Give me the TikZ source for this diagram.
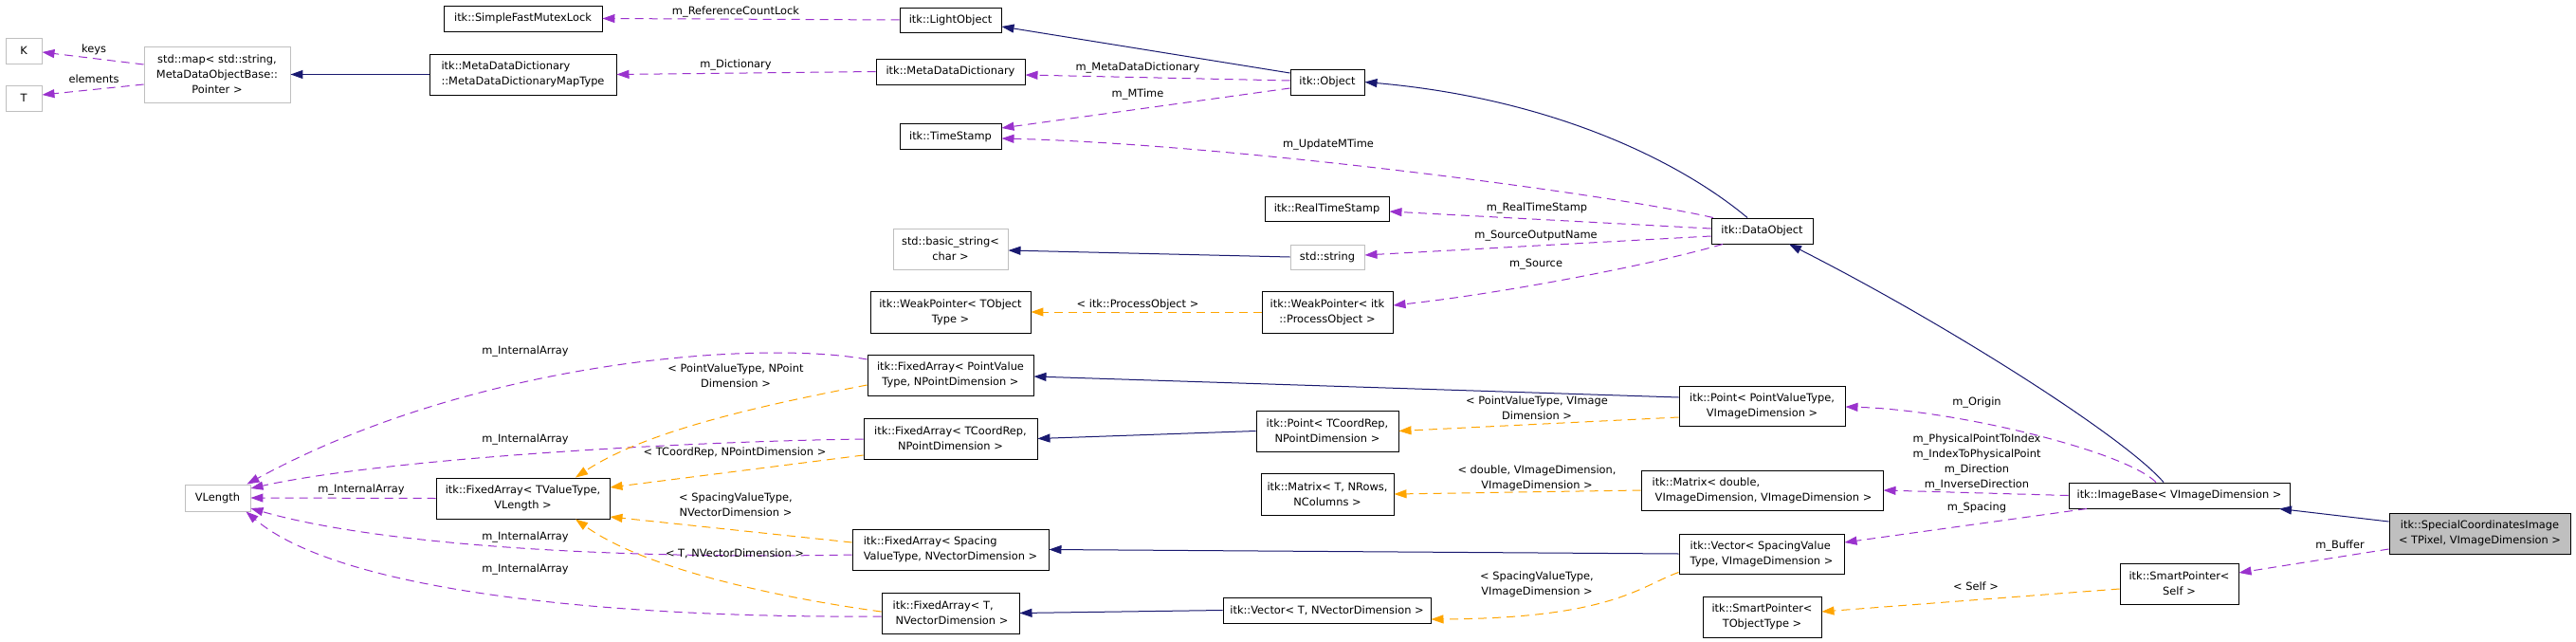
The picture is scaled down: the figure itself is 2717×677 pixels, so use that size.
\documentclass[tikz,border=0pt]{standalone}
\usepackage{fontspec}
\setmainfont{DejaVu Sans}
\usetikzlibrary{arrows.meta}
\definecolor{undgray}{HTML}{BFBFBF}
\definecolor{curgray}{HTML}{BFBFBF}
\definecolor{inhblue}{HTML}{191970}
\definecolor{usepurple}{HTML}{9A32CD}
\definecolor{tmplorange}{HTML}{FFA500}
\newcommand{\dxfont}{\fontsize{11.4pt}{16pt}\selectfont}
\tikzset{
  doc/.style={draw=black, fill=white, line width=0.95pt, inner sep=0pt},
  und/.style={draw=undgray, fill=white, line width=0.95pt, inner sep=0pt},
  cur/.style={draw=black, fill=curgray, line width=0.95pt, inner sep=0pt},
  lab/.style={inner sep=0pt, align=center},
  tipshape/.style={-{Triangle[length=13pt,width=9pt]}},
  inh/.style={draw=inhblue, line width=1pt, tipshape},
  usage/.style={draw=usepurple, line width=1pt, dash pattern=on 9pt off 6pt, tipshape},
  tmpl/.style={draw=tmplorange, line width=1pt, dash pattern=on 9pt off 6pt, tipshape},
}
\begin{document}
\begin{tikzpicture}[x=1pt, y=-1pt, font=\dxfont]
\fill[white] (0,0) rectangle (2717,677);
\useasboundingbox (0,0) rectangle (2717,677);

% ---------- nodes ----------
\node[und, minimum width=38, minimum height=27] (K) at (25,53.5) {K};
\node[und, minimum width=38, minimum height=27] (T) at (25,103.5) {T};
\node[und, minimum width=154, minimum height=59, align=center] (stdmap) at (229,78.5) {std::map< std::string,\\ MetaDataObjectBase::\\Pointer >};
\node[doc, minimum width=167, minimum height=27] (sfml) at (551.5,19.5) {itk::SimpleFastMutexLock};
\node[doc, minimum width=197, minimum height=43, align=left] (maptype) at (551.5,78.5) {itk::MetaDataDictionary\\::MetaDataDictionaryMapType};
\node[doc, minimum width=107, minimum height=26] (light) at (1002.5,21) {itk::LightObject};
\node[doc, minimum width=157, minimum height=27] (mdd) at (1002.5,75.5) {itk::MetaDataDictionary};
\node[doc, minimum width=107, minimum height=27] (ts) at (1002.5,144) {itk::TimeStamp};
\node[doc, minimum width=78, minimum height=27] (obj) at (1400,86.5) {itk::Object};
\node[doc, minimum width=131, minimum height=26] (rts) at (1399.5,220) {itk::RealTimeStamp};
\node[und, minimum width=121, minimum height=43, align=center] (bs) at (1002.5,262.5) {std::basic\_string<\\char >};
\node[und, minimum width=78, minimum height=26] (str) at (1400,271) {std::string};
\node[doc, minimum width=169, minimum height=44, align=center] (wpt) at (1002.5,329) {itk::WeakPointer< TObject\\Type >};
\node[doc, minimum width=138, minimum height=44, align=center] (wpp) at (1400,329) {itk::WeakPointer< itk\\::ProcessObject >};
\node[doc, minimum width=107, minimum height=27] (dobj) at (1858.5,243.5) {itk::DataObject};
\node[doc, minimum width=175, minimum height=43, align=center] (fapvt) at (1002.5,395.5) {itk::FixedArray< PointValue\\Type, NPointDimension >};
\node[doc, minimum width=183, minimum height=43, align=center] (fatcr) at (1002.5,462.5) {itk::FixedArray< TCoordRep,\\NPointDimension >};
\node[doc, minimum width=150, minimum height=43, align=center] (ptcr) at (1400,454.5) {itk::Point< TCoordRep,\\NPointDimension >};
\node[doc, minimum width=140, minimum height=44, align=center] (mt) at (1400,521) {itk::Matrix< T, NRows,\\NColumns >};
\node[doc, minimum width=207, minimum height=43, align=left] (fasvt) at (1002.5,579.5) {itk::FixedArray< Spacing\\ValueType, NVectorDimension >};
\node[doc, minimum width=145, minimum height=43, align=left] (fat) at (1002.5,646.5) {itk::FixedArray< T,\\\hspace*{3pt}NVectorDimension >};
\node[doc, minimum width=219, minimum height=27] (vect) at (1399.5,643.5) {itk::Vector< T, NVectorDimension >};
\node[doc, minimum width=175, minimum height=42, align=center] (pvt) at (1858.5,428) {itk::Point< PointValueType,\\VImageDimension >};
\node[doc, minimum width=255, minimum height=42, align=left] (md) at (1858.5,517) {itk::Matrix< double,\\\hspace*{3pt}VImageDimension, VImageDimension >};
\node[doc, minimum width=174, minimum height=42, align=left] (vs) at (1858,584) {itk::Vector< SpacingValue\\Type, VImageDimension >};
\node[doc, minimum width=125, minimum height=43, align=center] (spt) at (1858.5,650.5) {itk::SmartPointer<\\TObjectType >};
\node[doc, minimum width=233, minimum height=27] (ib) at (2298.5,522.5) {itk::ImageBase< VImageDimension >};
\node[doc, minimum width=125, minimum height=43, align=center] (sps) at (2298.5,615.5) {itk::SmartPointer<\\Self >};
\node[cur, minimum width=191, minimum height=43, align=center] (sci) at (2615.5,562.5) {itk::SpecialCoordinatesImage\\< TPixel, VImageDimension >};
\node[und, minimum width=69, minimum height=28] (vl) at (229.5,525) {VLength};
\node[doc, minimum width=183, minimum height=43, align=center] (fatv) at (551.5,525.5) {itk::FixedArray< TValueType,\\VLength >};

% ---------- connectors ----------
\draw[inh] (maptype) -- (stdmap);
\draw[usage] ([yshift=10.5pt]stdmap.west) -- ([yshift=-1.5pt]K.east);
\draw[usage] ([yshift=-10.5pt]stdmap.west) -- ([yshift=3.5pt]T.east);
\draw[usage] (light.west) -- (sfml.east);
\draw[usage] (mdd.west) -- (maptype.east);
\draw[inh] ([yshift=9.5pt]obj.west) -- ([yshift=-7pt]light.east);
\draw[usage] ([yshift=1.5pt]obj.west) -- ([yshift=-3.5pt]mdd.east);
\draw[usage] ([yshift=-6.5pt]obj.west) -- ([yshift=9pt]ts.east);
\draw[inh] ([xshift=-15.5pt]dobj.north) .. controls (1773,171) and (1639,104) .. (obj.east);
\draw[usage] ([xshift=-51.5pt]dobj.north) .. controls (1700,205) and (1300,152) .. ([yshift=-2pt]ts.east);
\draw[usage] ([yshift=2.5pt]dobj.west) -- ([yshift=-3pt]rts.east);
\draw[usage] ([yshift=-5.5pt]dobj.west) -- ([yshift=2pt]str.east);
\draw[usage] ([xshift=-41.5pt]dobj.south) .. controls (1740,280) and (1580,310) .. ([yshift=7pt]wpp.east);
\draw[inh] (str.west) -- ([yshift=-1.5pt]bs.east);
\draw[tmpl] (wpp.west) -- (wpt.east);
\draw[inh] ([yshift=9pt]pvt.west) -- ([yshift=-1.5pt]fapvt.east);
\draw[tmpl] ([yshift=-12pt]pvt.west) -- (ptcr.east);
\draw[inh] (ptcr.west) -- (fatcr.east);
\draw[tmpl] (md.west) -- (mt.east);
\draw[inh] (vs.west) -- (fasvt.east);
\draw[tmpl] ([yshift=2pt]vs.south west) .. controls (1730,618) and (1700,652) .. ([yshift=-9.5pt]vect.east);
\draw[inh] (vect.west) -- (fat.east);
\draw[inh] ([xshift=-16.5pt]ib.north) .. controls (2240,460) and (2050,340) .. ([xshift=28.5pt]dobj.south);
\draw[usage] ([xshift=-24.5pt]ib.north) .. controls (2240,475) and (2060,432) .. ([yshift=-1pt]pvt.east);
\draw[usage] (ib.west) -- (md.east);
\draw[usage] ([xshift=-97.5pt]ib.south) -- ([yshift=12pt]vs.east);
\draw[inh] ([yshift=12.5pt]sci.west) -- ([xshift=105.5pt]ib.south);
\draw[usage] ([yshift=-16.5pt]sci.west) -- ([yshift=11.5pt]sps.east);
\draw[tmpl] ([yshift=-5.5pt]sps.west) -- ([yshift=5.5pt]spt.east);
\draw[usage] (fatv.west) -- (vl.east);
\draw[usage] ([yshift=16.5pt]fapvt.west) .. controls (800,358) and (500,380) .. ([xshift=-4pt]vl.north east);
\draw[usage] ([yshift=-0.5pt]fatcr.west) .. controls (700,466) and (400,485) .. ([yshift=10pt]vl.east);
\draw[usage] ([yshift=-5.5pt]fasvt.west) .. controls (650,590) and (400,575) .. ([yshift=-11pt]vl.east);
\draw[usage] ([yshift=-3.5pt]fat.west) .. controls (650,652) and (360,625) .. ([xshift=-5pt]vl.south east);
\draw[tmpl] ([yshift=-10.5pt]fapvt.west) .. controls (800,428) and (680,455) .. ([xshift=55.5pt]fatv.north);
\draw[tmpl] ([yshift=-17.5pt]fatcr.west) -- ([yshift=11.5pt]fatv.east);
\draw[tmpl] ([yshift=7.5pt]fasvt.west) -- ([yshift=-19.5pt]fatv.east);
\draw[tmpl] ([yshift=1.5pt]fat.west) .. controls (820,630) and (680,600) .. ([xshift=55.5pt]fatv.south);

% ---------- edge labels ----------
\node[lab] (l1) at (99,52) {keys};
\node[lab] (l2) at (99,83) {elements};
\node[lab] (l3) at (776,13) {m\_ReferenceCountLock};
\node[lab] (l4) at (776,69) {m\_Dictionary};
\node[lab] (l5) at (1200,72) {m\_MetaDataDictionary};
\node[lab] (l6) at (1200,100) {m\_MTime};
\node[lab] (l7) at (1401,153) {m\_UpdateMTime};
\node[lab] (l8) at (1621,220) {m\_RealTimeStamp};
\node[lab] (l9) at (1620,249) {m\_SourceOutputName};
\node[lab] (l10) at (1620,279) {m\_Source};
\node[lab] (l11) at (1200,321) {< itk::ProcessObject >};
\node[lab] (l12) at (1621,430.5) {< PointValueType, VImage\\Dimension >};
\node[lab] (l13) at (1621,504) {< double, VImageDimension,\\VImageDimension >};
\node[lab] (l14) at (1621,616) {< SpacingValueType,\\VImageDimension >};
\node[lab] (l15) at (2084,618) {< Self >};
\node[lab] (l16) at (2085,425) {m\_Origin};
\node[lab] (l17) at (2085,488) {m\_PhysicalPointToIndex\\m\_IndexToPhysicalPoint\\m\_Direction\\m\_InverseDirection};
\node[lab] (l18) at (2085,536) {m\_Spacing};
\node[lab] (l19) at (2468,576) {m\_Buffer};
\node[lab] (l20) at (554,371) {m\_InternalArray};
\node[lab] (l21) at (554,464) {m\_InternalArray};
\node[lab] (l22) at (381,517) {m\_InternalArray};
\node[lab] (l23) at (554,567) {m\_InternalArray};
\node[lab] (l24) at (554,601) {m\_InternalArray};
\node[lab] (l25) at (776,396) {< PointValueType, NPoint\\Dimension >};
\node[lab] (l26) at (775,477) {< TCoordRep, NPointDimension >};
\node[lab] (l27) at (776,532) {< SpacingValueType,\\NVectorDimension >};
\node[lab] (l28) at (775,584) {< T, NVectorDimension >};
\end{tikzpicture}
\end{document}
